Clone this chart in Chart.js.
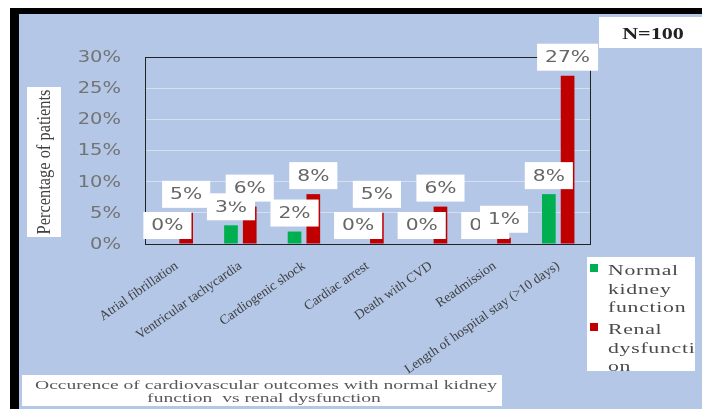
<!DOCTYPE html>
<html>
<head>
<meta charset="utf-8">
<script src="https://cdn.jsdelivr.net/npm/chart.js"></script>
<style>
  html, body { margin: 0; padding: 0; background: #fff; }
  #wrap { width: 702px; height: 409px; }
</style>
</head>
<body>
<div id="wrap"><canvas id="outcomes" width="702" height="409"></canvas></div>
<script>
// Chart data
const categories = [
  "Atrial fibrillation",
  "Ventricular tachycardia",
  "Cardiogenic shock",
  "Cardiac arrest",
  "Death with CVD",
  "Readmission",
  "Length of hospital stay (>10 days)"
];
const normalKidney = [0, 3, 2, 0, 0, 0, 8];
const renalDysfunction = [5, 6, 8, 5, 6, 1, 27];
const yTicks = [0, 5, 10, 15, 20, 25, 30];
const seriesNames = ["Normal kidney function", "Renal dysfunction"];
const legendLines = [["Normal", "kidney", "function"], ["Renal", "dysfuncti", "on"]];
const yTitle = "Percentage of patients";
const captionLines = ["Occurence of cardiovascular outcomes with normal kidney", "function  vs renal dysfunction"];
const sampleNote = "N=100";

const GREEN = "#00b050";
const RED = "#c00000";
const BLUE_BG = "#b4c7e7";

// draw text stretched horizontally like the original picture
function stretchedText(ctx, text, x, y, sx, align, baseline) {
  ctx.save();
  ctx.translate(x, y);
  ctx.scale(sx, 1);
  ctx.textAlign = align || "left";
  ctx.textBaseline = baseline || "alphabetic";
  ctx.fillText(text, 0, 0);
  ctx.restore();
}

const decor = {
  id: "decor",
  beforeDraw(chart) {
    const ctx = chart.ctx;
    ctx.save();
    ctx.fillStyle = "#fff";
    ctx.fillRect(0, 0, chart.width, chart.height);
    ctx.fillStyle = "#000";
    ctx.fillRect(10, 8, chart.width - 10, chart.height - 8);
    ctx.fillStyle = BLUE_BG;
    ctx.fillRect(19, 14, chart.width - 19, chart.height - 14);
    ctx.restore();
  },
  afterDraw(chart) {
    const ctx = chart.ctx;
    const area = chart.chartArea;
    const yScale = chart.scales.y;

    // plot outline
    ctx.save();
    ctx.strokeStyle = "#222";
    ctx.lineWidth = 1;
    ctx.strokeRect(Math.round(area.left) + 0.5, Math.round(area.top) + 0.5,
      Math.round(area.right - area.left), Math.round(area.bottom - area.top));

    // y tick labels
    ctx.fillStyle = "#737373";
    ctx.font = "15px 'DejaVu Sans'";
    yTicks.forEach(v => {
      stretchedText(ctx, v + "%", area.left - 24, yScale.getPixelForValue(v) + 1, 1.3, "right", "middle");
    });

    // y axis title in white box
    ctx.fillStyle = "#fff";
    ctx.fillRect(27, 87, 34, 150);
    ctx.fillStyle = "#404040";
    ctx.font = "16px 'Liberation Serif'";
    const tw = ctx.measureText(yTitle).width;
    ctx.save();
    ctx.translate(45, 162);
    ctx.rotate(-Math.PI / 2);
    ctx.scale(145 / tw, 1.2);
    ctx.textAlign = "center";
    ctx.textBaseline = "middle";
    ctx.fillText(yTitle, 0, 0);
    ctx.restore();

    // data labels (series 1 first, series 2 drawn over it)
    ctx.font = "15px 'DejaVu Sans'";
    chart.data.datasets.forEach((ds, d) => {
      const meta = chart.getDatasetMeta(d);
      meta.data.forEach((bar, i) => {
        const txt = ds.data[i] + "%";
        const w = ctx.measureText(txt).width * 1.35 + 16;
        const h = 27;
        const bottom = bar.y - 5;
        ctx.fillStyle = "#fff";
        ctx.fillRect(bar.x - w / 2, bottom - h, w, h);
        ctx.fillStyle = "#666";
        stretchedText(ctx, txt, bar.x, bottom - h / 2 + 1, 1.35, "center", "middle");
      });
    });

    // legend
    ctx.fillStyle = "#fff";
    ctx.fillRect(587, 257, 108, 114);
    const colors = chart.data.datasets.map(ds => ds.backgroundColor);
    const legendTop = [264, 323];
    ctx.font = "15px 'Liberation Serif'";
    legendLines.forEach((lines, s) => {
      ctx.fillStyle = colors[s];
      ctx.fillRect(590, legendTop[s], 8, 8);
      ctx.fillStyle = "#4a4a4a";
      lines.forEach((line, k) => {
        ctx.save();
        if ("letterSpacing" in ctx) ctx.letterSpacing = "0.5px";
        stretchedText(ctx, line, 608, legendTop[s] + 11 + k * 18.6, 1.45, "left", "alphabetic");
        ctx.restore();
      });
    });

    // caption box
    ctx.fillStyle = "#fff";
    ctx.fillRect(22, 375, 480, 31);
    ctx.fillStyle = "#595959";
    ctx.font = "13px 'Liberation Serif'";
    const capScale = 462 / ctx.measureText(captionLines[0]).width;
    stretchedText(ctx, captionLines[0], 266, 389, capScale, "center");
    stretchedText(ctx, captionLines[1], 264, 402, capScale, "center");

    // N=100 box
    ctx.fillStyle = "#fff";
    ctx.fillRect(599, 17, 103, 31);
    ctx.fillStyle = "#222";
    ctx.font = "bold 17px 'Liberation Serif'";
    stretchedText(ctx, sampleNote, 653, 39, 1.3, "center");
    ctx.restore();
  }
};

new Chart(document.getElementById("outcomes"), {
  type: "bar",
  data: {
    labels: categories,
    datasets: [
      { label: seriesNames[0], data: normalKidney, backgroundColor: GREEN, borderWidth: 0 },
      { label: seriesNames[1], data: renalDysfunction, backgroundColor: RED, borderWidth: 0 }
    ]
  },
  options: {
    responsive: false,
    animation: false,
    devicePixelRatio: 1,
    layout: { padding: { left: 145, right: 112, top: 57, bottom: 20 } },
    datasets: {
      bar: { categoryPercentage: 0.59, barPercentage: 0.73 }
    },
    plugins: {
      legend: { display: false },
      tooltip: { enabled: false },
      title: { display: false }
    },
    scales: {
      x: {
        grid: { display: false, drawTicks: false },
        border: { display: true, color: "#222", width: 1 },
        ticks: {
          autoSkip: false,
          minRotation: 35,
          maxRotation: 35,
          padding: 14,
          color: "#404040",
          font: { family: "'Liberation Serif'", size: 13.5 }
        },
        afterFit(scale) { scale.height = 145; }
      },
      y: {
        min: 0,
        max: 30,
        ticks: { display: false, stepSize: 5 },
        grid: { color: "#d6dff0", lineWidth: 1, drawTicks: false },
        border: { display: true, color: "#222", width: 1 },
        afterFit(scale) { scale.width = 0; }
      }
    }
  },
  plugins: [decor]
});
</script>
</body>
</html>
